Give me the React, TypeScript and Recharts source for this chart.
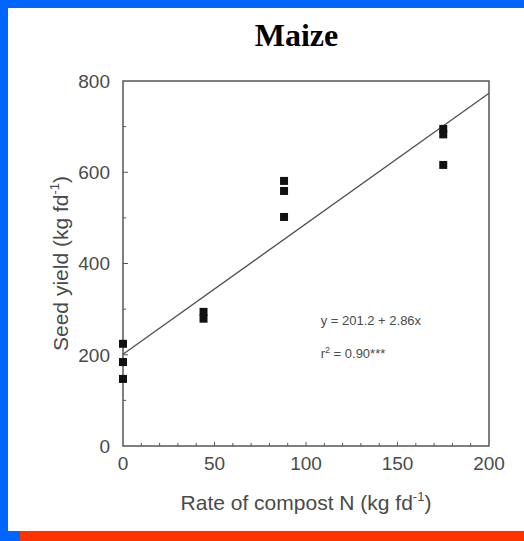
import React from "react";
import {
  ReferenceArea,
  ReferenceDot,
  ReferenceLine,
  Scatter,
  ScatterChart,
  XAxis,
  YAxis,
  ZAxis,
} from "recharts";

const rate0 = [
  { x: 0, y: 224 },
  { x: 0, y: 184 },
  { x: 0, y: 147 },
];
const rate44 = [
  { x: 44, y: 294 },
  { x: 44, y: 279 },
];
const rate88 = [
  { x: 88, y: 581 },
  { x: 88, y: 559 },
  { x: 88, y: 502 },
];
const rate175 = [
  { x: 175, y: 695 },
  { x: 175, y: 683 },
  { x: 175, y: 616 },
];
const observations = [...rate0, ...rate44, ...rate88, ...rate175];

// Fitted line y = 201.2 + 2.86x, ends of the drawn segment.
const fitLine = [
  { x: 0, y: 201.2 },
  { x: 200, y: 773.2 },
];

const xTicks = [0, 10, 20, 30, 40, 50, 60, 70, 80, 90, 100, 110, 120, 130, 140, 150, 160, 170, 180, 190, 200];
const xLabelled = [0, 50, 100, 150, 200];
const yTicks = [0, 100, 200, 300, 400, 500, 600, 700, 800];
const yLabelled = [0, 200, 400, 600, 800];

const BLUE = "#0066ff";
const RED = "#ff3300";
const INK = "#555";
const LABEL = "#4a4a4a";
const SANS = "'Liberation Sans', Arial, Helvetica, sans-serif";

const X_GAP = 11;
const Y_GAP = 13;

function XTick(props: any) {
  const { x, y, payload } = props;
  const v = payload.value;
  const labelled = xLabelled.includes(v);
  const axisY = y - X_GAP;
  return (
    <g>
      {v > 0 && v < 200 && (
        <line x1={x} x2={x} y1={axisY} y2={axisY - (v % 50 === 0 ? 4 : 3)} stroke={INK} strokeWidth={1} />
      )}
      {labelled && (
        <text x={x} y={y} dy="0.71em" textAnchor="middle" fill={LABEL} fontSize={19} fontFamily={SANS}>
          {v}
        </text>
      )}
    </g>
  );
}

function YTick(props: any) {
  const { x, y, payload } = props;
  const v = payload.value;
  const labelled = yLabelled.includes(v);
  const axisX = x + Y_GAP;
  return (
    <g>
      {v > 0 && v < 800 && (
        <line x1={axisX} x2={axisX + (v % 200 === 0 ? 5 : 3)} y1={y} y2={y} stroke={INK} strokeWidth={1} />
      )}
      {labelled && (
        <text x={x} y={y} dy="0.36em" textAnchor="end" fill={LABEL} fontSize={19} fontFamily={SANS}>
          {v}
        </text>
      )}
    </g>
  );
}

function XTitle(props: any) {
  const { viewBox } = props;
  const cx = viewBox.x + viewBox.width / 2;
  const by = viewBox.y + 64;
  return (
    <text x={cx} y={by} textAnchor="middle" fill={LABEL} fontSize={21} fontFamily={SANS}>
      Rate of compost N (kg fd
      <tspan fontSize={13} dy={-9}>-1</tspan>
      <tspan dy={9}>)</tspan>
    </text>
  );
}

function YTitle(props: any) {
  const { viewBox } = props;
  const cx = viewBox.x + 28;
  const cy = viewBox.y + viewBox.height / 2;
  return (
    <text
      x={cx}
      y={cy}
      textAnchor="middle"
      transform={`rotate(-90, ${cx}, ${cy})`}
      fill={LABEL}
      fontSize={21}
      fontFamily={SANS}
    >
      Seed yield (kg fd
      <tspan fontSize={13} dy={-9}>-1</tspan>
      <tspan dy={9}>)</tspan>
    </text>
  );
}

function Equation(props: any) {
  const { viewBox } = props;
  const x = viewBox.x;
  const y = viewBox.y;
  return (
    <g fontFamily={SANS} fontSize={13} fill={LABEL}>
      <text x={x} y={y} dy="0.36em">y = 201.2 + 2.86x</text>
      <text x={x} y={y + 33} dy="0.36em">
        r<tspan fontSize={9} dy={-5}>2</tspan>
        <tspan dy={5}> = 0.90***</tspan>
      </text>
    </g>
  );
}

export default function App() {
  return (
    <div style={{ position: "absolute", left: 0, top: 0, width: 524, height: 541, background: BLUE, overflow: "hidden" }}>
      <div style={{ position: "absolute", left: 8, top: 8, width: 516, height: 523, background: "#fff" }} />
      <div style={{ position: "absolute", left: 20, top: 531, width: 504, height: 10, background: RED }} />
      <div
        style={{
          position: "absolute",
          left: 196,
          top: 19,
          width: 201,
          textAlign: "center",
          fontFamily: "'Liberation Serif', 'Times New Roman', serif",
          fontWeight: "bold",
          fontSize: 32,
          lineHeight: "32px",
          color: "#000",
        }}
      >
        Maize
      </div>
      <div style={{ position: "absolute", left: 0, top: 0 }}>
        <ScatterChart width={524} height={541} margin={{ top: 81, right: 35, bottom: 45, left: 40 }}>
          <XAxis
            type="number"
            dataKey="x"
            domain={[0, 200]}
            ticks={xTicks}
            interval={0}
            axisLine={false}
            tickLine={false}
            tickSize={0}
            tickMargin={X_GAP}
            tick={<XTick />}
            height={50}
            label={{ content: <XTitle /> }}
          />
          <YAxis
            type="number"
            dataKey="y"
            domain={[0, 800]}
            ticks={yTicks}
            interval={0}
            axisLine={false}
            tickLine={false}
            tickSize={0}
            tickMargin={Y_GAP}
            tick={<YTick />}
            width={83}
            label={{ content: <YTitle /> }}
          />
          <ZAxis range={[20, 20]} />
          <ReferenceArea x1={0} x2={200} y1={0} y2={800} fill="none" stroke={INK} strokeWidth={1.5} />
          <ReferenceLine segment={fitLine} stroke={INK} strokeWidth={1.4} />
          <ReferenceDot x={108} y={275} r={0} fill="none" stroke="none" label={{ content: <Equation /> }} />
          <Scatter data={observations} shape="square" fill="#111" isAnimationActive={false} />
        </ScatterChart>
      </div>
    </div>
  );
}
